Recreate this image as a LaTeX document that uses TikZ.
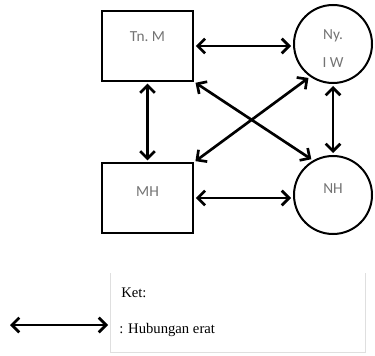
\documentclass[tikz,border=0pt]{standalone}
\usepackage{fontspec}
\setmainfont{Liberation Serif}
\newfontfamily\labelfont{Carlito}
\usetikzlibrary{arrows.meta}

\tikzset{
  kotak/.style={draw,line width=1.5pt,minimum width=68pt,minimum height=52pt,inner sep=0pt,
    font=\labelfont\fontsize{11.5}{13}\selectfont,text=black!55},
  bulat/.style={draw,circle,line width=1.5pt,minimum size=58.5pt,inner sep=0pt,
    font=\labelfont\fontsize{11.5}{21}\selectfont,text=black!55,align=center},
  erat/.style={{Straight Barb[length=5.5pt,width=11pt]}-{Straight Barb[length=5.5pt,width=11pt]},
    line width=2pt,shorten <=1.5pt,shorten >=1.5pt},
  ket/.style={anchor=base west,inner sep=0pt,font=\fontsize{11}{13}\selectfont}
}

\begin{document}
\begin{tikzpicture}[x=0.75pt,y=-0.75pt]
\useasboundingbox (0,0) rectangle (375,356);

% kotak dan lingkaran
\node[kotak,text depth=13.5pt] (tnm) at (147.5,46) {Tn.~M};
\node[kotak,text depth=9pt] (mh) at (147.5,198) {MH};
\node[bulat,text height=35pt] (ny) at (333,44) {Ny.\\I W};
\node[bulat,text depth=10pt] (nh) at (333,195) {NH};

% hubungan
\draw[erat] (tnm.east) -- (tnm.east -| ny.west);
\draw[erat] (mh.east) -- (mh.east -| nh.west);
\draw[erat] (tnm.south) -- (mh.north);
\draw[erat] (ny.south) -- (nh.north);
\draw[erat] (tnm.south east) -- (nh.120);
\draw[erat] (mh.north east) -- (ny.235);

% keterangan
\draw[gray!25,line width=0.75pt] (110,273) |- (365,352) -- (365,273);
\node[ket] (ketr) at (121,297) {Ket:};
\node[ket] (hub) at (119,333) {: Hubungan erat};
\coordinate (kiri) at (10,325);
\coordinate (kanan) at (108,325);
\draw[erat,shorten <=0pt,shorten >=0pt] (kiri) -- (kanan);
\end{tikzpicture}
\end{document}
